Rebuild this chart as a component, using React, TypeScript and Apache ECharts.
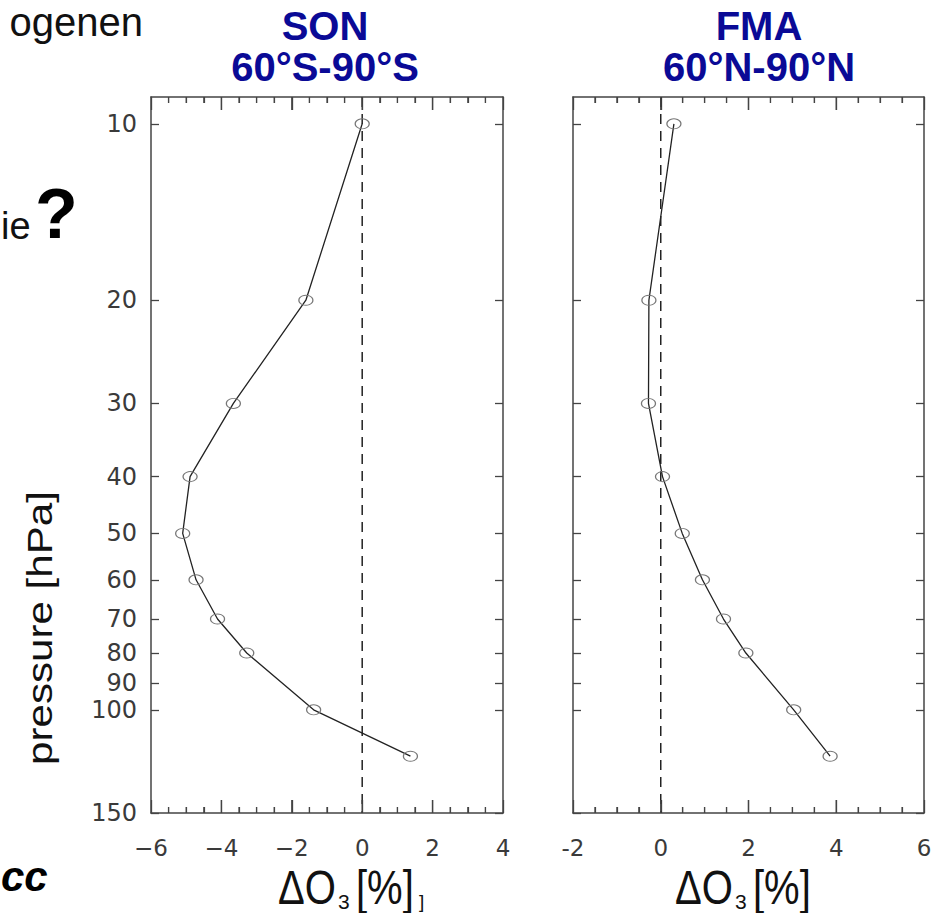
import React, { useEffect, useRef } from "react";
import * as echarts from "echarts";

// ---- data ----
const pressureLevels = [10, 20, 30, 40, 50, 60, 70, 80, 100, 120];
const sonValues = [0.0, -1.6, -3.66, -4.89, -5.1, -4.72, -4.11, -3.28, -1.38, 1.37];
const fmaValues = [0.3, -0.27, -0.28, 0.04, 0.49, 0.95, 1.43, 1.94, 3.03, 3.86];
const pressureTicks = [10, 20, 30, 40, 50, 60, 70, 80, 90, 100, 150];
const pressureRange = [9, 150];
const sonXRange = [-6, 4];
const fmaXRange = [-2, 6];
const xMajorStep = 2;
const xMinorStep = 0.5;
const zeroLine = 0;
const panelTitles = [
  ["SON", "60°S-90°S"],
  ["FMA", "60°N-90°N"],
];

const AXIS_COLOR = "#444";
const LABEL_COLOR = "#3a3a3a";
const TITLE_COLOR = "#0a0a96";
const LABEL_FONT = "'DejaVu Sans', sans-serif";
const SANS = "'Liberation Sans', Arial, sans-serif";

const lg = (v: number) => Math.log10(v);

function xAxesFor(grid: number, range: number[], fmt: (v: number) => string) {
  const base = {
    type: "value" as const,
    gridIndex: grid,
    min: range[0],
    max: range[1],
    interval: xMajorStep,
    axisLine: { show: true, lineStyle: { color: AXIS_COLOR, width: 1.5 } },
    axisTick: { show: true, inside: true, length: 13, lineStyle: { color: AXIS_COLOR, width: 1.3 } },
    minorTick: { show: true, splitNumber: 4, length: 6, lineStyle: { color: AXIS_COLOR, width: 1.2 } },
    splitLine: { show: false },
    minorSplitLine: { show: false },
  };
  return [
    {
      ...base,
      position: "bottom",
      axisLabel: {
        show: true,
        margin: 23,
        fontSize: 23,
        fontFamily: LABEL_FONT,
        color: LABEL_COLOR,
        formatter: fmt,
      },
    },
    { ...base, position: "top", axisLabel: { show: false } },
  ];
}

function yAxesFor(grid: number, showLabels: boolean) {
  const ticks = pressureTicks.map(lg);
  const base = {
    type: "value" as const,
    gridIndex: grid,
    min: lg(pressureRange[0]),
    max: lg(pressureRange[1]),
    inverse: true,
    axisLine: { show: true, onZero: false, lineStyle: { color: AXIS_COLOR, width: 1.5 } },
    axisTick: { show: true, inside: true, length: 8, customValues: ticks, lineStyle: { color: AXIS_COLOR, width: 1.3 } },
    splitLine: { show: false },
  };
  return [
    {
      ...base,
      position: "left",
      axisLabel: {
        show: showLabels,
        customValues: ticks,
        margin: 14,
        fontSize: 24,
        fontFamily: LABEL_FONT,
        color: LABEL_COLOR,
        formatter: (v: number) => String(Math.round(Math.pow(10, v))),
      },
    },
    { ...base, position: "right", axisLabel: { show: false } },
  ];
}

function profileSeries(values: number[], axisIdx: number) {
  return {
    type: "line",
    xAxisIndex: axisIdx,
    yAxisIndex: axisIdx,
    data: values.map((v, k) => [v, lg(pressureLevels[k])]),
    symbol: "circle",
    symbolSize: [14, 10],
    itemStyle: { color: "rgba(255,255,255,0)", borderColor: "#777", borderWidth: 1.1 },
    lineStyle: { color: "#222", width: 1.3 },
    silent: true,
    z: 3,
  };
}

function zeroSeries(axisIdx: number) {
  return {
    type: "line",
    xAxisIndex: axisIdx,
    yAxisIndex: axisIdx,
    data: [
      [zeroLine, lg(pressureRange[0])],
      [zeroLine, lg(pressureRange[1])],
    ],
    symbol: "none",
    silent: true,
    lineStyle: { color: "#222", type: [10, 7], width: 1.5 },
    z: 2,
  };
}

// tick marks along top and bottom frame, drawn through the axes' own scale
function xTickSeries(axisIdx: number, range: number[]) {
  const yTop = lg(pressureRange[0]);
  const yBottom = lg(pressureRange[1]);
  const n = Math.round((range[1] - range[0]) / xMinorStep);
  const data: number[][] = [];
  for (let i = 1; i < n; i++) {
    const v = range[0] + i * xMinorStep;
    const major = Math.abs(v / xMajorStep - Math.round(v / xMajorStep)) < 1e-9 ? 1 : 0;
    data.push([v, yTop, major]);
  }
  return {
    type: "custom",
    xAxisIndex: axisIdx,
    yAxisIndex: axisIdx,
    silent: true,
    z: 4,
    clip: false,
    encode: { x: 0, y: 1 },
    data,
    renderItem: (_params: any, api: any) => {
      const v = api.value(0);
      const major = api.value(2) === 1;
      const len = major ? 13 : 6;
      const top = api.coord([v, yTop]);
      const bottom = api.coord([v, yBottom]);
      const style = { stroke: AXIS_COLOR, lineWidth: major ? 1.3 : 1.2 };
      return {
        type: "group",
        children: [
          { type: "line", shape: { x1: top[0], y1: top[1], x2: top[0], y2: top[1] + len }, style },
          { type: "line", shape: { x1: bottom[0], y1: bottom[1], x2: bottom[0], y2: bottom[1] - len }, style },
        ],
      };
    },
  };
}

const minusFmt = (v: number) => (v < 0 ? "\u2212" + Math.abs(v) : String(v));
const hyphenFmt = (v: number) => String(v);

function titleTexts(cx: number, lines: string[]) {
  return lines.map((t, i) => ({
    type: "text",
    x: cx,
    y: 26 + i * 40.5,
    style: {
      text: t,
      fill: TITLE_COLOR,
      font: `bold 40px ${SANS}`,
      textAlign: "center",
      textVerticalAlign: "middle",
    },
  }));
}

function axisNameTexts(x0: number, extra: boolean) {
  const els: any[] = [
    {
      type: "text",
      x: x0,
      y: 887,
      scaleX: 0.87,
      scaleY: 1.06,
      style: { text: "ΔO", fill: "#111", font: `46px ${SANS}`, textAlign: "left", textVerticalAlign: "middle" },
    },
    {
      type: "text",
      x: x0 + 60,
      y: 901,
      style: { text: "3", fill: "#111", font: `21px ${SANS}`, textAlign: "left", textVerticalAlign: "middle" },
    },
    {
      type: "text",
      x: x0 + 78,
      y: 887,
      scaleX: 0.87,
      scaleY: 1.06,
      style: { text: "[%]", fill: "#111", font: `46px ${SANS}`, textAlign: "left", textVerticalAlign: "middle" },
    },
  ];
  if (extra) {
    els.push({
      type: "text",
      x: x0 + 141,
      y: 901,
      style: { text: "]", fill: "#111", font: `19px ${SANS}`, textAlign: "left", textVerticalAlign: "middle" },
    });
  }
  return els;
}

export default function App() {
  const ref = useRef<HTMLDivElement>(null);
  useEffect(() => {
    if (!ref.current) return;
    const chart = echarts.init(ref.current, undefined, { renderer: "svg" });
    const option: any = {
      animation: false,
      grid: [
        { left: 151, top: 97, width: 352, height: 716 },
        { left: 573, top: 97, width: 351, height: 716 },
      ],
      xAxis: [...xAxesFor(0, sonXRange, minusFmt), ...xAxesFor(1, fmaXRange, hyphenFmt)],
      yAxis: [...yAxesFor(0, true), ...yAxesFor(1, false)],
      series: [
        zeroSeries(0),
        profileSeries(sonValues, 0),
        xTickSeries(0, sonXRange),
        zeroSeries(2),
        profileSeries(fmaValues, 2),
        xTickSeries(2, fmaXRange),
      ],
      graphic: [
        ...titleTexts(325, panelTitles[0]),
        ...titleTexts(759, panelTitles[1]),
        ...axisNameTexts(278, true),
        ...axisNameTexts(675, false),
        {
          type: "text",
          x: 40,
          y: 628,
          rotation: Math.PI / 2,
          scaleX: 1.17,
          style: {
            text: "pressure [hPa]",
            fill: "#111",
            font: `36px ${SANS}`,
            textAlign: "center",
            textVerticalAlign: "middle",
          },
        },
        {
          type: "text",
          x: 143,
          y: 22,
          style: { text: "ogenen", fill: "#111", font: `40px ${SANS}`, textAlign: "right", textVerticalAlign: "middle" },
        },
        {
          type: "text",
          x: 1,
          y: 226,
          style: { text: "ie", fill: "#111", font: `38px ${SANS}`, textAlign: "left", textVerticalAlign: "middle" },
        },
        {
          type: "text",
          x: 35,
          y: 214,
          style: { text: "?", fill: "#000", font: `bold 70px ${SANS}`, textAlign: "left", textVerticalAlign: "middle" },
        },
        {
          type: "text",
          x: 1,
          y: 876,
          style: { text: "cc", fill: "#000", font: `italic bold 42px ${SANS}`, textAlign: "left", textVerticalAlign: "middle" },
        },
      ],
    };
    chart.setOption(option);
    return () => chart.dispose();
  }, []);
  return (
    <div
      ref={ref}
      style={{ position: "absolute", left: 0, top: 0, width: 938, height: 913 }}
    />
  );
}
